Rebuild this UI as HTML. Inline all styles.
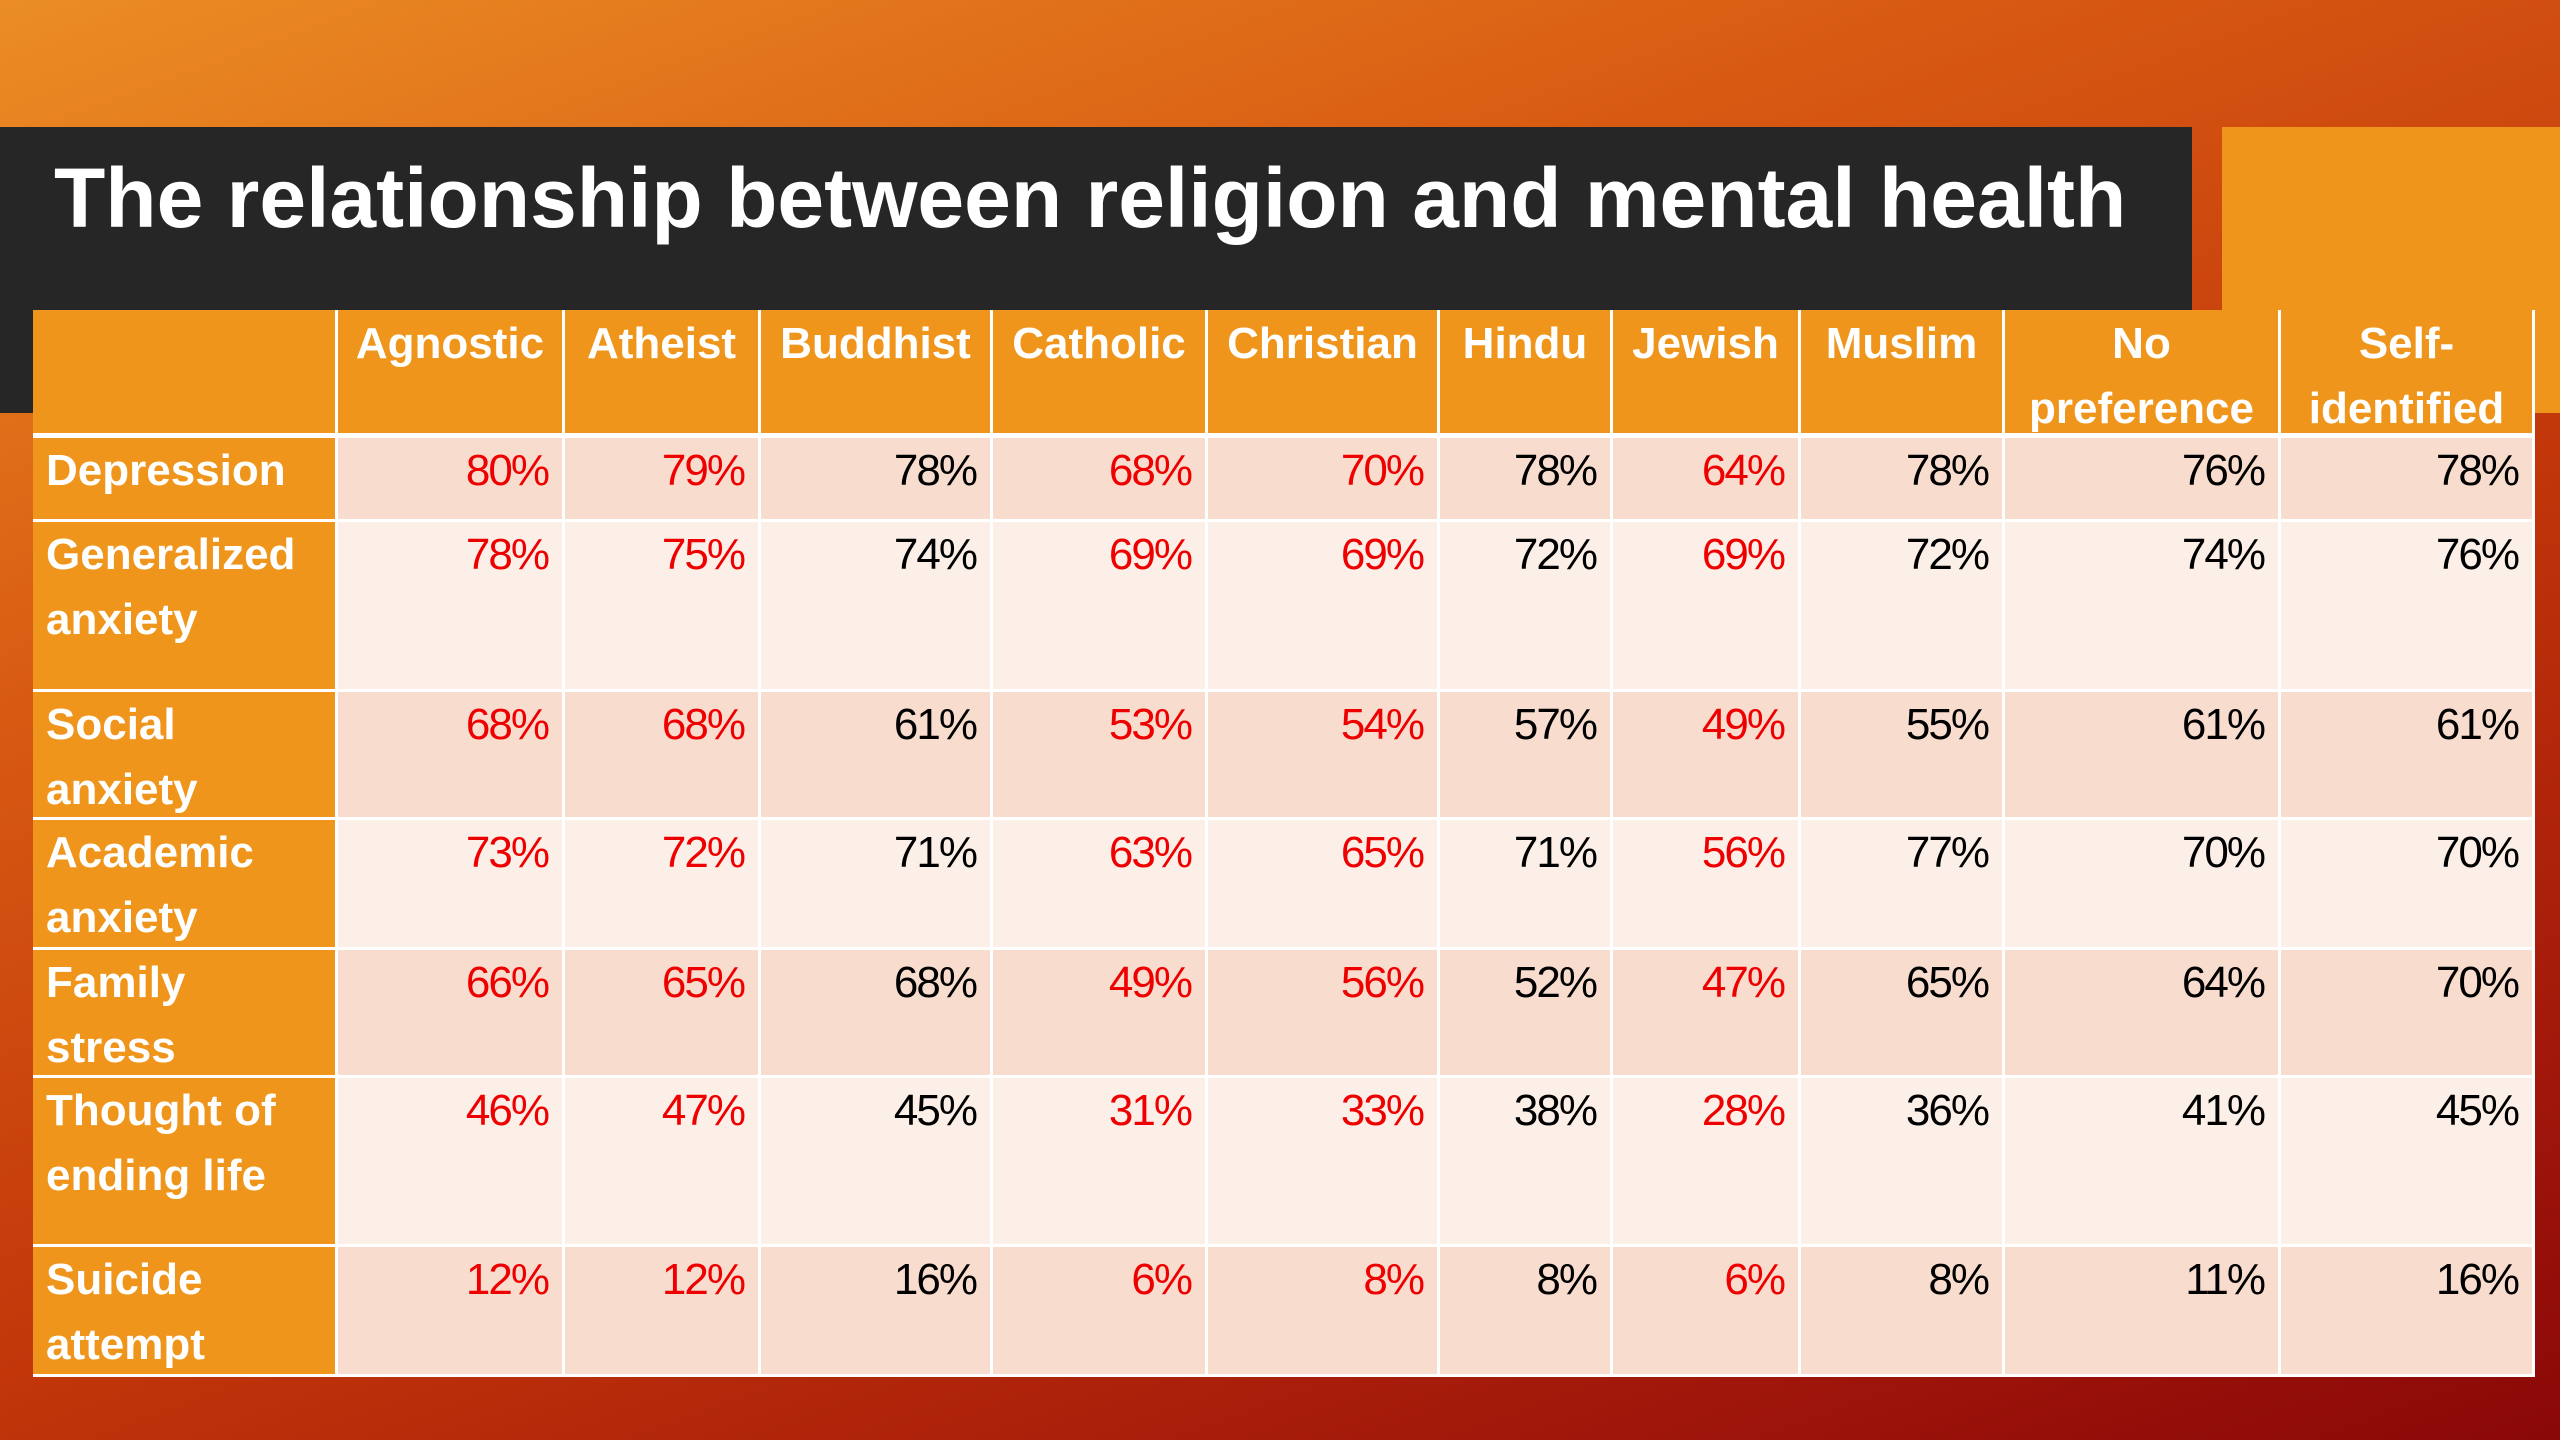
<!DOCTYPE html>
<html><head><meta charset="utf-8"><style>
html,body{margin:0;padding:0}
body{width:2560px;height:1440px;overflow:hidden;position:relative;font-family:"Liberation Sans",sans-serif;
background:linear-gradient(160deg,#eb8d24 0%,#d85a12 30%,#c0340a 60%,#a0160a 85%,#8a0808 100%);}
.abs{position:absolute}
#title{left:0;top:127px;width:2192px;height:183px;background:#262626}
#strip{left:0;top:127px;width:33px;height:286px;background:#262626}
#obox{left:2222px;top:127px;width:338px;height:286px;background:#ef951b}
#ttext{left:54px;top:148px;font-size:84px;font-weight:bold;color:#fff;white-space:nowrap;line-height:100px}
.cell{position:absolute;box-sizing:border-box;font-size:44px;line-height:65px;overflow:hidden;border-right:3px solid #fff;border-bottom:3px solid #fff}
.hd{background:#ef951b;color:#fff;font-weight:bold;text-align:center;padding-top:1px}
.lab{background:#ef951b;color:#fff;font-weight:bold;text-align:left;padding-left:13px}
.num{text-align:right;padding-right:14px;letter-spacing:-2px}
.dark{background:#f8ddcf}.light{background:#fbefe8}
</style></head><body>
<div class="abs" id="title"></div>
<div class="abs" id="strip"></div>
<div class="abs" id="obox"></div>
<div class="abs" id="ttext">The relationship between religion and mental health</div>
<div id="table"></div>
<script>
const categories=["Agnostic","Atheist","Buddhist","Catholic","Christian","Hindu","Jewish","Muslim","No preference","Self-identified"];
const headerLabels=["Agnostic","Atheist","Buddhist","Catholic","Christian","Hindu","Jewish","Muslim","No<br>preference","Self-<br>identified"];
const rowLabels=["Depression","Generalized<br>anxiety","Social<br>anxiety","Academic<br>anxiety","Family<br>stress","Thought of<br>ending life","Suicide<br>attempt"];
const depression=[80,79,78,68,70,78,64,78,76,78];
const generalizedAnxiety=[78,75,74,69,69,72,69,72,74,76];
const socialAnxiety=[68,68,61,53,54,57,49,55,61,61];
const academicAnxiety=[73,72,71,63,65,71,56,77,70,70];
const familyStress=[66,65,68,49,56,52,47,65,64,70];
const thoughtEndingLife=[46,47,45,31,33,38,28,36,41,45];
const suicideAttempt=[12,12,16,6,8,8,6,8,11,16];
const highlighted=[true,true,false,true,true,false,true,false,false,false];
const rows=[depression,generalizedAnxiety,socialAnxiety,academicAnxiety,familyStress,thoughtEndingLife,suicideAttempt];
const colX=[33,338,565,761,993,1208,1440,1613,1801,2005,2281,2535];
const rowY=[310,438,522,692,820,950,1078,1247,1377];
const t=document.getElementById('table');
function mk(x0,x1,y0,y1,cls,html){
  const d=document.createElement('div');
  d.className='cell '+cls;
  d.style.left=x0+'px';d.style.top=y0+'px';d.style.width=(x1-x0)+'px';d.style.height=(y1-y0)+'px';
  d.innerHTML=html;t.appendChild(d);return d;
}
const corner=mk(colX[0],colX[1],rowY[0],rowY[1],'hd','');


corner.style.borderBottom='5px solid #fff';
headerLabels.forEach((h,i)=>{
  const d=mk(colX[i+1],colX[i+2],rowY[0],rowY[1],'hd',h);
  
  
  d.style.borderBottom='5px solid #fff';
});
rows.forEach((vals,r)=>{
  const shade=r%2===0?'dark':'light';
  const l=mk(colX[0],colX[1],rowY[r+1],rowY[r+2],'lab',rowLabels[r]);
  
  
  vals.forEach((v,c)=>{
    const d=mk(colX[c+1],colX[c+2],rowY[r+1],rowY[r+2],'num '+shade,v+'%');
    d.style.color=highlighted[c]?'#ee0000':'#000';
    
    
  });
});
</script>
</body></html>
